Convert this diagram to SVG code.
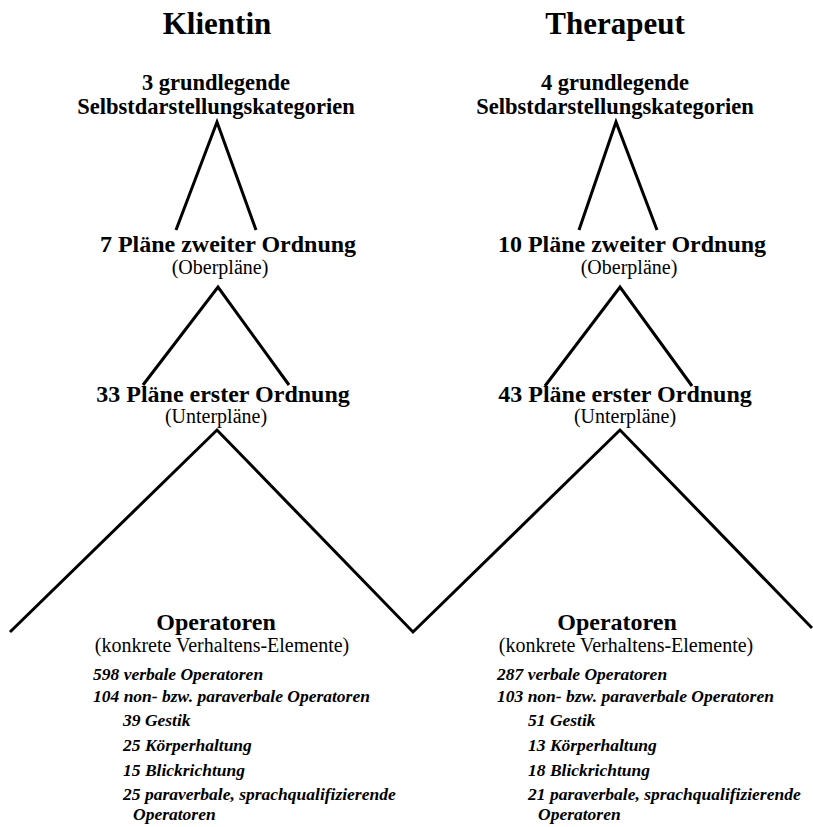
<svg xmlns="http://www.w3.org/2000/svg" width="813" height="827" viewBox="0 0 813 827">
<style>
text{font-family:"Liberation Serif","Times New Roman",serif;fill:#000}
.title{font-size:31px;font-weight:bold;text-anchor:middle}
.head{font-size:22.5px;font-weight:bold;text-anchor:middle}
.plan{font-size:24px;font-weight:bold;text-anchor:middle}
.sub{font-size:20px;text-anchor:middle}
.op{font-size:24px;font-weight:bold;text-anchor:middle}
.it{font-size:17.5px;font-style:italic;font-weight:bold}
.ln{stroke:#000;stroke-width:3;fill:none;stroke-linejoin:miter}
</style>
<rect width="813" height="827" fill="#fff"/>
<g id="connectors">
<polyline class="ln" points="176,230 217,122 256,230"/>
<polyline class="ln" points="579,230 616,122 657,230"/>
<polyline class="ln" points="143,385 218,287 289,385"/>
<polyline class="ln" points="545,386 620,287 692,386"/>
<polyline class="ln" points="10,632 217,430 413,632 620,430 812,628"/>
</g>
<g id="title-klientin"><text class="title" x="217" y="34">Klientin</text></g>
<g id="title-therapeut"><text class="title" x="615" y="34">Therapeut</text></g>
<g id="k-kategorien">
<text class="head" x="216" y="90">3 grundlegende</text>
<text class="head" x="216" y="114">Selbstdarstellungskategorien</text>
</g>
<g id="t-kategorien">
<text class="head" x="615" y="90">4 grundlegende</text>
<text class="head" x="615" y="114">Selbstdarstellungskategorien</text>
</g>
<g id="k-oberplaene">
<text class="plan" x="228" y="252">7 Pläne zweiter Ordnung</text>
<text class="sub" x="220" y="274">(Oberpläne)</text>
</g>
<g id="t-oberplaene">
<text class="plan" x="632" y="252">10 Pläne zweiter Ordnung</text>
<text class="sub" x="629" y="274">(Oberpläne)</text>
</g>
<g id="k-unterplaene">
<text class="plan" x="223" y="402">33 Pläne erster Ordnung</text>
<text class="sub" x="216" y="423">(Unterpläne)</text>
</g>
<g id="t-unterplaene">
<text class="plan" x="625" y="402">43 Pläne erster Ordnung</text>
<text class="sub" x="625" y="423">(Unterpläne)</text>
</g>
<g id="k-operatoren">
<text class="op" x="216" y="630">Operatoren</text>
<text class="sub" x="222" y="652">(konkrete Verhaltens-Elemente)</text>
<text class="it" x="93" y="680">598 verbale Operatoren</text>
<text class="it" x="93" y="702">104 non- bzw. paraverbale Operatoren</text>
<text class="it" x="123" y="726">39 Gestik</text>
<text class="it" x="123" y="751">25 Körperhaltung</text>
<text class="it" x="123" y="776">15 Blickrichtung</text>
<text class="it" x="123" y="800">25 paraverbale, sprachqualifizierende</text>
<text class="it" x="133" y="820">Operatoren</text>
</g>
<g id="t-operatoren">
<text class="op" x="617" y="630">Operatoren</text>
<text class="sub" x="626" y="652">(konkrete Verhaltens-Elemente)</text>
<text class="it" x="497" y="680">287 verbale Operatoren</text>
<text class="it" x="497" y="702">103  non- bzw. paraverbale Operatoren</text>
<text class="it" x="528" y="726">51 Gestik</text>
<text class="it" x="528" y="751">13 Körperhaltung</text>
<text class="it" x="528" y="776">18 Blickrichtung</text>
<text class="it" x="528" y="800">21 paraverbale, sprachqualifizierende</text>
<text class="it" x="538" y="820">Operatoren</text>
</g>
</svg>
